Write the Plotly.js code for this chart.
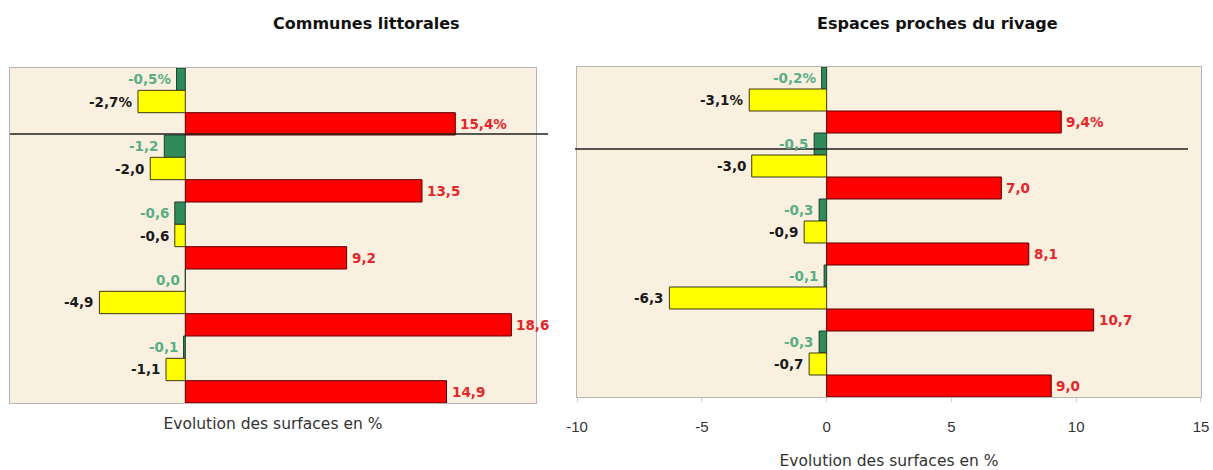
<!DOCTYPE html>
<html>
<head>
<meta charset="utf-8">
<script src="https://cdn.plot.ly/plotly-3.0.1.min.js"></script>
<style>
  html, body { margin: 0; padding: 0; background: #ffffff; }
  #chart { width: 1213px; height: 470px; }
</style>
</head>
<body>
<div id="chart"></div>
<script>
// Categories (5 groups, top to bottom)
const categories = ["G1", "G2", "G3", "G4", "G5"];

// Panel 1 : Communes littorales
const communesGreen  = [-0.5, -1.2, -0.6, 0.0, -0.1];
const communesYellow = [-2.7, -2.0, -0.6, -4.9, -1.1];
const communesRed    = [15.4, 13.5, 9.2, 18.6, 14.9];

// Panel 2 : Espaces proches du rivage
const rivageGreen  = [-0.2, -0.5, -0.3, -0.1, -0.3];
const rivageYellow = [-3.1, -3.0, -0.9, -6.3, -0.7];
const rivageRed    = [9.4, 7.0, 8.1, 10.7, 9.0];

const panelTitles = ["Communes littorales", "Espaces proches du rivage"];
const axisTitle = "Evolution des surfaces en %";
const xTickVals = [-10, -5, 0, 5, 10, 15];

const seriesStyle = [
  {fill: "#2f8a5c", line: "#1f3d2c", label: "#5aae85"},
  {fill: "#ffff00", line: "#3a3a10", label: "#1a1a1a"},
  {fill: "#ff0000", line: "#5a0000", label: "#e5262b"}
];

const panels = [
  {series: [communesGreen, communesYellow, communesRed], xa: "x", ya: "y"},
  {series: [rivageGreen, rivageYellow, rivageRed], xa: "x2", ya: "y2"}
];

function fmt(v, i) {
  return v.toFixed(1).replace(".", ",") + (i === 0 ? "%" : "");
}

const traces = [];
const annotations = [];
const offsets = [-1/3, 0, 1/3];
const labelFont = "DejaVu Sans, Verdana, sans-serif";

panels.forEach((p, pi) => {
  p.series.forEach((vals, si) => {
    traces.push({
      type: "bar",
      orientation: "h",
      y: categories,
      x: vals,
      xaxis: p.xa,
      yaxis: p.ya,
      marker: {color: seriesStyle[si].fill, line: {color: seriesStyle[si].line, width: 1}},
      hoverinfo: "x",
      showlegend: false
    });
    vals.forEach((v, i) => {
      const pos = v > 0;
      annotations.push({
        xref: p.xa, yref: p.ya,
        x: v, y: i + offsets[si],
        text: fmt(v, i),
        showarrow: false,
        xanchor: pos ? "left" : "right",
        xshift: pos ? 3 : -3,
        yanchor: "middle",
        font: {family: labelFont, size: 13.5, color: seriesStyle[si].label, weight: 700}
      });
    });
  });
});

// Panel titles
annotations.push({
  xref: "paper", yref: "paper", x: 0.2997, y: 1.13, xanchor: "center", yanchor: "middle",
  text: "<b>" + panelTitles[0] + "</b>", showarrow: false,
  font: {family: labelFont, size: 16, color: "#111"}
});
annotations.push({
  xref: "paper", yref: "paper", x: 0.7791, y: 1.13, xanchor: "center", yanchor: "middle",
  text: "<b>" + panelTitles[1] + "</b>", showarrow: false,
  font: {family: labelFont, size: 16, color: "#111"}
});

const plotBg = "#faf0e0";
const axisFont = {family: "DejaVu Sans, Verdana, sans-serif", size: 15.5, color: "#333"};

const layout = {
  width: 1213, height: 470,
  margin: {l: 10, r: 12, t: 67, b: 67, autoexpand: false},
  paper_bgcolor: "#ffffff",
  plot_bgcolor: plotBg,
  barmode: "group",
  bargap: 0,
  bargroupgap: 0,
  showlegend: false,
  xaxis: {
    domain: [0, 0.4416], anchor: "y",
    range: [-10, 20], showticklabels: false, ticks: "",
    showgrid: false, zeroline: false,
    showline: true, mirror: true, linecolor: "#b5b5b5", linewidth: 1,
    title: {text: axisTitle, font: axisFont, standoff: 15},
    automargin: false
  },
  yaxis: {
    domain: [0, 0.997], anchor: "x",
    autorange: "reversed", type: "category",
    showticklabels: false, ticks: "", showgrid: false, zeroline: false,
    showline: true, mirror: true, linecolor: "#b5b5b5", linewidth: 1,
    automargin: false
  },
  xaxis2: {
    domain: [0.4761, 1], anchor: "y2",
    range: [-10, 15], tickvals: xTickVals, ticktext: xTickVals.map(String),
    ticks: "outside", ticklen: 4, tickcolor: "#d0d0d0",
    tickfont: {family: "Liberation Sans, Arial, sans-serif", size: 15, color: "#333"},
    ticklabelstandoff: 12,
    showgrid: false, zeroline: false,
    showline: true, mirror: true, linecolor: "#b5b5b5", linewidth: 1,
    title: {text: axisTitle, font: axisFont, standoff: 21},
    automargin: false
  },
  yaxis2: {
    domain: [0.0179, 1], anchor: "x2",
    autorange: "reversed", type: "category",
    showticklabels: false, ticks: "", showgrid: false, zeroline: false,
    showline: true, mirror: true, linecolor: "#b5b5b5", linewidth: 1,
    automargin: false
  },
  annotations: annotations,
  shapes: [
    {type: "line", xref: "paper", yref: "paper", x0: 0, x1: 0.4517, y0: 0.8006, y1: 0.8006,
     line: {color: "#222222", width: 1.4}},
    {type: "line", xref: "paper", yref: "paper", x0: 0.4744, x1: 0.9891, y0: 0.756, y1: 0.756,
     line: {color: "#222222", width: 1.4}}
  ]
};

Plotly.newPlot("chart", traces, layout, {displayModeBar: false, staticPlot: true});
</script>
</body>
</html>
